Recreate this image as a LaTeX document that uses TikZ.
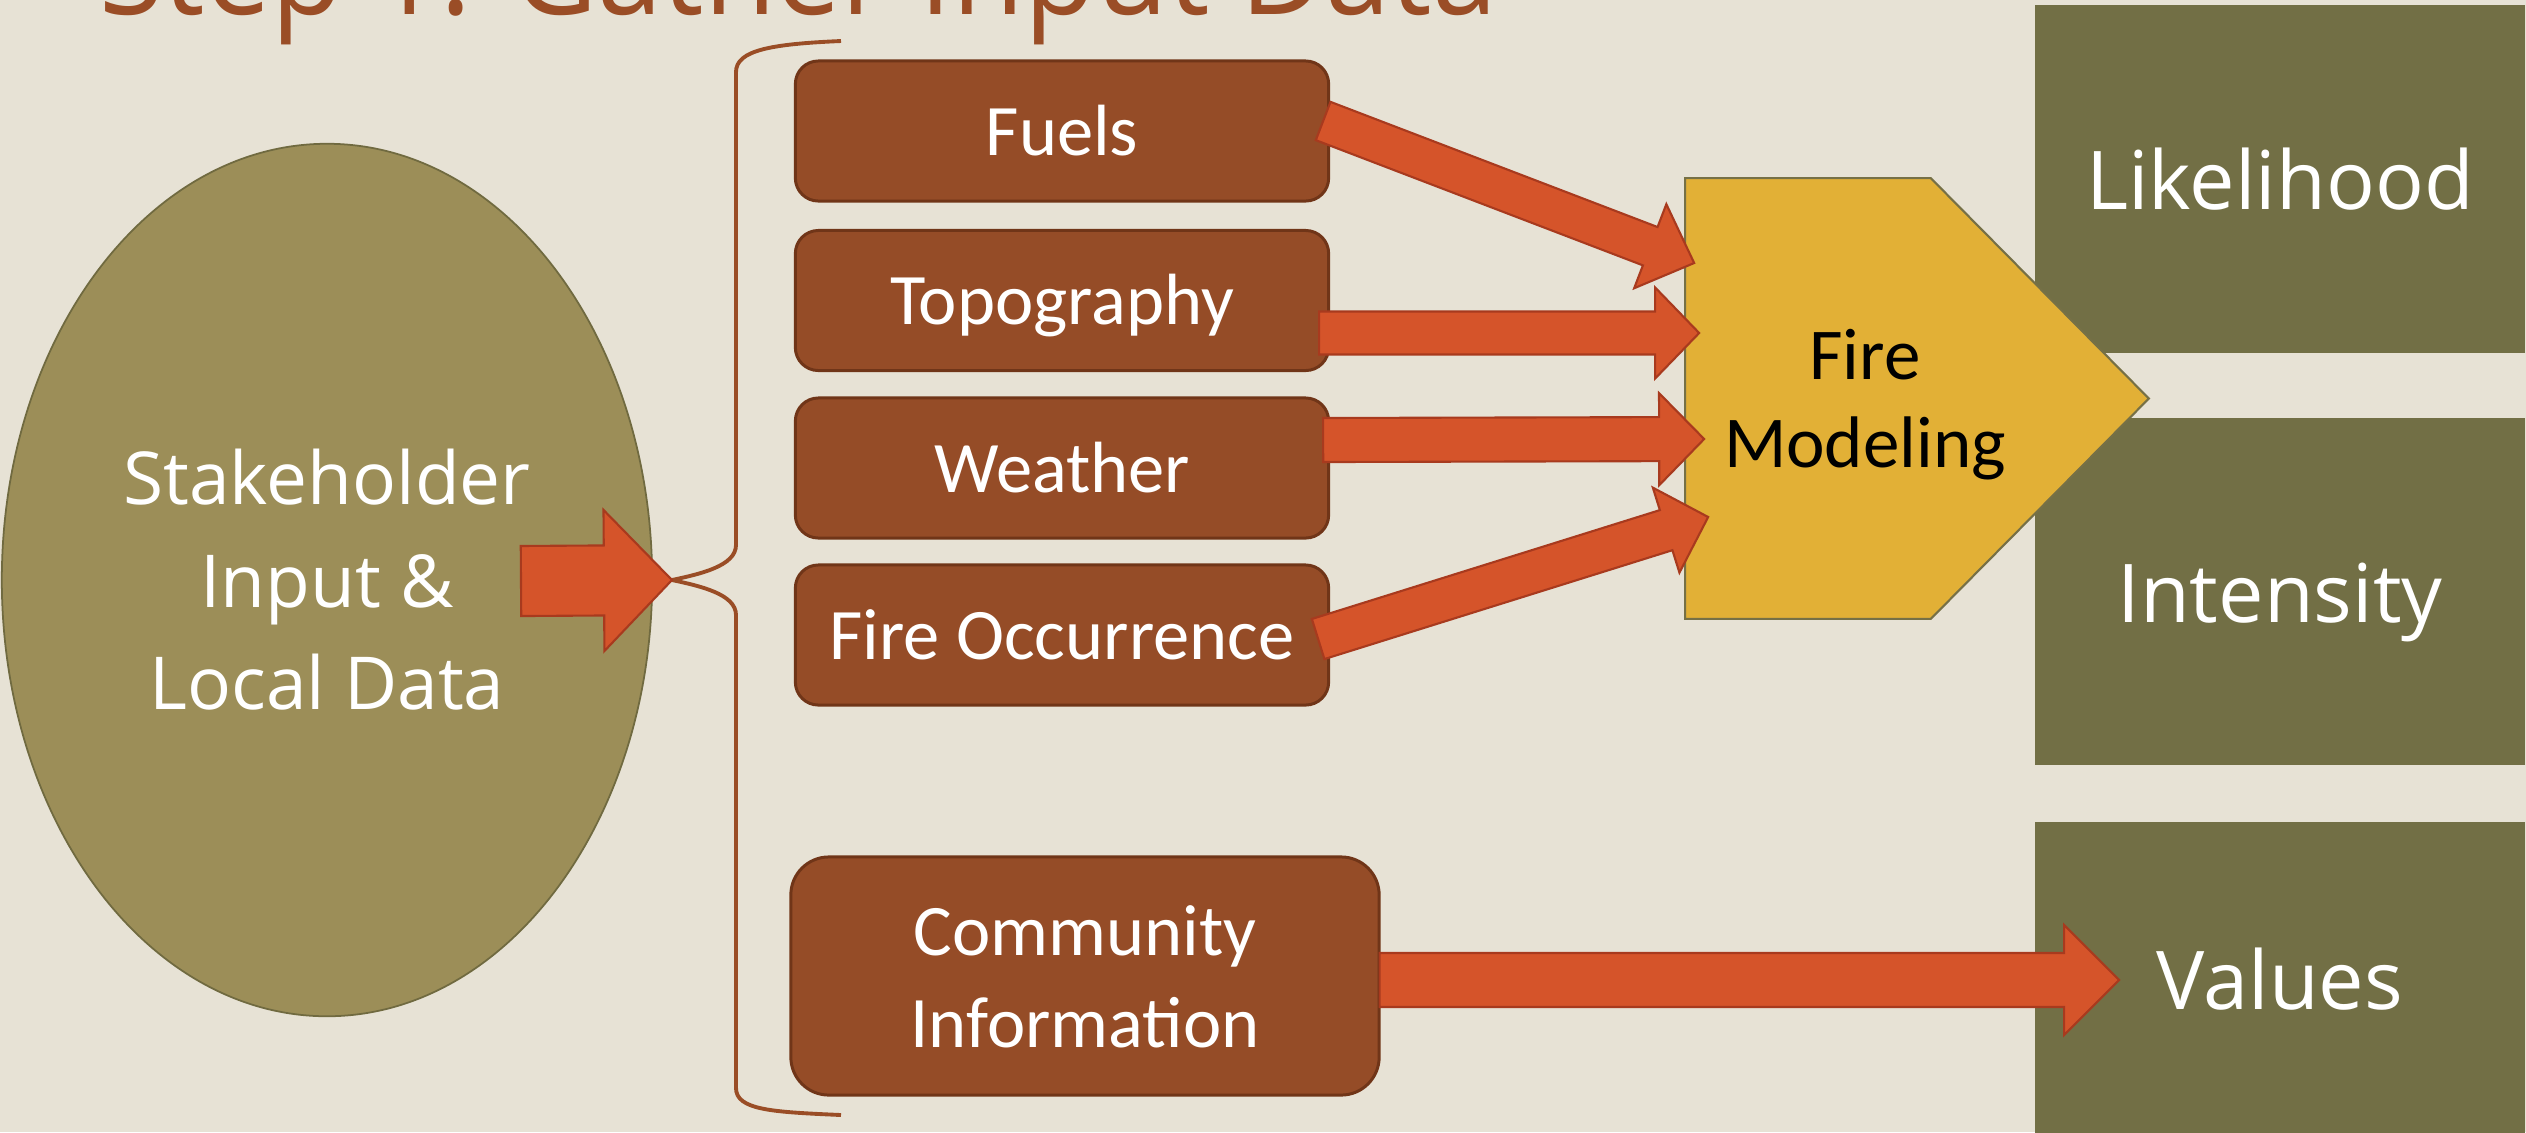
\documentclass[tikz,border=0pt]{standalone}
\usepackage{fontspec}
\usepackage{graphicx}
\setmainfont{Open Sans}
\newfontfamily\calfont{Carlito}
\usetikzlibrary{calc,shapes.geometric}
\definecolor{bgcol}{RGB}{231,226,213}
\definecolor{titlecol}{RGB}{154,77,38}
\definecolor{boxfill}{RGB}{149,76,39}
\definecolor{boxline}{RGB}{112,53,24}
\definecolor{arrfill}{RGB}{213,84,42}
\definecolor{arrline}{RGB}{168,58,30}
\definecolor{ellfill}{RGB}{156,142,88}
\definecolor{ellline}{RGB}{112,106,64}
\definecolor{pentfill}{RGB}{226,176,54}
\definecolor{pentline}{RGB}{118,112,70}
\definecolor{olivefill}{RGB}{114,111,69}
\tikzset{
  inbox/.style={draw=boxline, fill=boxfill, line width=0.85pt, rounded corners=0.23cm,
    inner sep=0pt, minimum width=5.33cm, minimum height=1.40cm, text=white,
    font=\calfont\fontsize{20.63}{25.75}\selectfont, text height=0.60cm, text depth=0.12cm},
  outbox/.style={fill=olivefill, draw=olivefill, line width=0.4pt, inner sep=0pt,
    minimum width=4.88cm, text=white, font=\fontsize{23.05}{28}\selectfont,
    text height=0.61cm, text depth=0cm},
  barrow/.style n args={3}{fill=arrfill, draw=arrline, line width=0.6pt, line join=miter,
    to path={($(\tikztostart)!#1!90:(\tikztotarget)$)
      -- ($(\tikztotarget)!#3!(\tikztostart)!#1!90:(\tikztotarget)$)
      -- ($(\tikztotarget)!#3!(\tikztostart)!#2!90:(\tikztotarget)$)
      -- (\tikztotarget)
      -- ($(\tikztotarget)!#3!(\tikztostart)!#2!-90:(\tikztotarget)$)
      -- ($(\tikztotarget)!#3!(\tikztostart)!#1!-90:(\tikztotarget)$)
      -- ($(\tikztostart)!#1!-90:(\tikztotarget)$) -- cycle}},
  bracestyle/.style={draw=titlecol, line width=1.1pt},
}
\begin{document}
\begin{tikzpicture}[x=0.01cm,y=-0.01cm]
\useasboundingbox (0,0) rectangle (2526,1132);
\fill[bgcol] (0,0) rectangle (2526,1132);

% title (cut off at top)
\node[anchor=base, inner sep=0pt, text=titlecol] (title) at (798.5,14)
  {\resizebox{13.97cm}{\height}{\fontsize{36}{40}\selectfont Step 1: Gather Input Data}};

% stakeholder ellipse
\node[ellipse, draw=ellline, fill=ellfill, line width=0.5pt, minimum width=6.5cm,
  minimum height=8.72cm, inner sep=0pt, text=white, align=center,
  font=\fontsize{20.77}{29.16}\selectfont] (stake) at (327,580)
  {Stakeholder\\Input \&\\Local Data};

% input boxes
\node[inbox] (fuels) at (1062,131) {Fuels};
\node[inbox] (topo) at (1062,300.5) {Topography};
\node[inbox] (weather) at (1062,468) {Weather};
\node[inbox] (fireocc) at (1062,635) {Fire Occurrence};
\node[inbox, minimum width=5.88cm, minimum height=2.38cm, rounded corners=0.38cm] (commbox) at (1085,976) {};
\node[text=white, align=center, inner sep=0pt, font=\calfont\fontsize{20.63}{25.9}\selectfont]
  (commtext) at (1085,983.3) {\strut Community\\\strut Information};

% brace
\coordinate (bracetip) at (672,580);
\draw[bracestyle] (841,41) .. controls (772,44) and (736,50) .. (736,72)
  -- (736,545) .. controls (736,566) and (700,574) .. (bracetip)
  .. controls (700,586) and (736,594) .. (736,615)
  -- (736,1088) .. controls (736,1110) and (772,1112) .. (841,1115);

% output boxes
\node[outbox, minimum height=3.46cm] (lik) at (2280,179) {Likelihood};
\node[outbox, minimum height=3.45cm] (inten) at (2280,591.5) {Intensity};
\node[outbox, minimum height=3.11cm] (vals) at (2280,978.5) {Values};

% fire modeling pentagon (on top of the output boxes)
\node[minimum width=4.62cm, minimum height=4.39cm, inner sep=0pt] (fmbox) at (1917,398.5) {};
\draw[fill=pentfill, draw=pentline, line width=0.6pt] (fmbox.north west)
  -- ($(fmbox.north east)+(-218,0)$) -- (fmbox.east)
  -- ($(fmbox.south east)+(-218,0)$) -- (fmbox.south west) -- cycle;
\node[align=center, inner sep=0pt, font=\calfont\fontsize{20.77}{25.3}\selectfont]
  (fmtext) at (1865,405.7) {\strut Fire\\\strut Modeling};

% arrow end points
\coordinate (s0) at ($(stake.center)+(194,1)$);
\coordinate (s1) at ($(fuels.east)+(-7,-10)$);
\coordinate (t1) at ($(fmbox.west)+(9,-135.5)$);
\coordinate (s2) at ($(topo.east)+(-11,32.5)$);
\coordinate (t2) at ($(fmbox.west)+(14,-65.5)$);
\coordinate (s3) at ($(weather.east)+(-7,-28)$);
\coordinate (t3) at ($(fmbox.west)+(19,40.5)$);
\coordinate (s4) at ($(fireocc.east)+(-12,4)$);
\coordinate (t4) at ($(fmbox.west)+(23,118.5)$);
\coordinate (s5) at ($(commbox.east)+(-1,4)$);
\coordinate (t5) at ($(vals.west)+(84,1.5)$);

% block arrows
\path[barrow={0.35cm}{0.705cm}{0.68cm}] (s0) to (bracetip);
\path[barrow={0.205cm}{0.45cm}{0.47cm}] (s1) to (t1);
\path[barrow={0.215cm}{0.455cm}{0.44cm}] (s2) to (t2);
\path[barrow={0.22cm}{0.46cm}{0.45cm}] (s3) to (t3);
\path[barrow={0.21cm}{0.445cm}{0.44cm}] (s4) to (t4);
\path[barrow={0.27cm}{0.55cm}{0.55cm}] (s5) to (t5);
\end{tikzpicture}
\end{document}
